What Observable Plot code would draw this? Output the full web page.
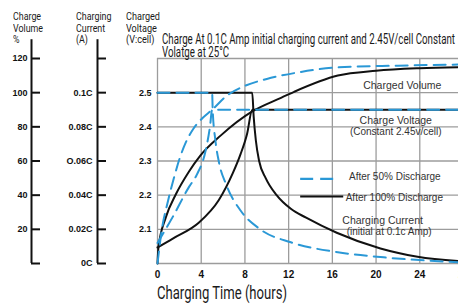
<!DOCTYPE html>
<html>
<head>
<meta charset="utf-8">
<script src="https://cdn.jsdelivr.net/npm/d3@7"></script>
<script src="https://cdn.jsdelivr.net/npm/@observablehq/plot@0.6"></script>
<style>
  html, body { margin: 0; padding: 0; background: #fff; overflow: hidden; }
  #wrap { position: relative; width: 458px; height: 306px; overflow: hidden; background: #fff; }
  #chart { position: absolute; left: 0; top: 0; }
  .lbl { position: absolute; white-space: pre; transform-origin: 0 0; color: #1a1a1a; font-family: Roboto, "DejaVu Sans", sans-serif; }
</style>
</head>
<body>
<div id="wrap"><div id="chart"></div></div>
<script>
// ---- axis ticks / labels ----
const hourTicks = [0, 4, 8, 12, 16, 20, 24, 28];
const voltTicks = [2.0, 2.1, 2.2, 2.3, 2.4, 2.5, 2.6];
const voltLabels = ["", "2.1", "2.2", "2.3", "2.4", "2.5", ""];
const volumeLabels = ["", "20", "40", "60", "80", "100", "120"];
const currentLabels = ["0C", "0.02C", "0.04C", "O.06C", "0.08C", "0.1C", ""];

// ---- series (time in hours) ----
// Charged volume (%)
const vol100T = [0, 0.08, 0.76, 1.68, 2.9, 3.9, 5.8, 8.67, 11.3, 12.5, 16.5, 20, 24, 28];
const vol100V = [0, 9, 27, 40.5, 54, 63, 75, 89, 97, 100.5, 110, 112.8, 114.3, 115];
const vol50T = [0, 0.4, 0.9, 1.5, 2.0, 2.6, 3.3, 4.1, 5.0, 6.4, 8, 10, 13, 16.5, 22, 28];
const vol50V = [0, 20, 35, 50, 61, 71, 79, 85, 90, 98.5, 104, 108, 112, 114.8, 115.8, 116.5];
// Charge voltage (V/cell)
const volt100T = [0, 1.4, 3.8, 5.6, 6.9, 7.6, 8.2, 8.67, 28];
const volt100V = [2.047, 2.073, 2.12, 2.185, 2.265, 2.32, 2.38, 2.45, 2.45];
const volt50T = [0, 1.37, 2.9, 3.6, 4.4, 4.8, 5.0, 28];
const volt50V = [2.06, 2.135, 2.225, 2.26, 2.33, 2.40, 2.45, 2.45];
// Charging current (C)
const cur100T = [0, 8.67, 8.8, 9.0, 9.3, 9.9, 10.9, 12.2, 13.6, 16.4, 20.4, 23.8, 28];
const cur100V = [0.1, 0.1, 0.086, 0.072, 0.06, 0.05, 0.04, 0.032, 0.0268, 0.018, 0.0088, 0.004, 0.0012];
const cur50T = [0, 5.0, 5.05, 5.3, 5.6, 6.3, 7.6, 9.4, 12.2, 16.5, 20.7, 28];
const cur50V = [0.1, 0.1, 0.09, 0.072, 0.06, 0.046, 0.031, 0.02, 0.0124, 0.0066, 0.0036, 0.0006];

// shared vertical scale is the voltage one: 0..120 % and 0..0.12C map onto 2.0..2.6 V
const fromVolume = v => 2 + v / 200;
const fromCurrent = c => 2 + c * 5;
const rows = (ts, vs, f) => ts.map((t, i) => ({t, v: f(vs[i])}));
const idx = d => Math.round((d - 2) * 10);

const BLUE = "#2a98d6";
const BLACK = "#111";
const DASH = "12,7";
const lineOpts = (stroke, dash) => ({x: "t", y: "v", stroke, strokeWidth: 2, curve: "monotone-x", strokeDasharray: dash});
const tickFont = {fontWeight: "bold", fontSize: 9, fill: "#111"};

const notes = [
  {text: "Charged Volume", t: 22.4, v: 2.522, size: 10.5},
  {text: "Charge Voltage", t: 21.8, v: 2.418, size: 10.5},
  {text: "(Constant 2.45v/cell)", t: 21.8, v: 2.3845, size: 10},
  {text: "Charging Current", t: 20.6, v: 2.1265, size: 10.5},
  {text: "(initial at 0.1c Amp)", t: 21.2, v: 2.0925, size: 10}
];

const plot = Plot.plot({
  width: 463, height: 306,
  marginLeft: 157, marginRight: 0, marginTop: 58, marginBottom: 43,
  x: {domain: [0, 28]},
  y: {domain: [2.0, 2.6]},
  style: {fontFamily: "'Liberation Sans', Arial, sans-serif", maxWidth: "none", background: "transparent"},
  marks: [
    Plot.gridX(hourTicks, {stroke: "#9c9c9c", strokeOpacity: 1, strokeWidth: 1.3}),
    Plot.gridY(voltTicks, {stroke: "#9c9c9c", strokeOpacity: 1, strokeWidth: 1.3}),
    // Charge Volume axis
    Plot.ruleX([0], {y1: 2.0, y2: 2.655, dx: -126, stroke: BLACK, strokeWidth: 2}),
    Plot.axisY(voltTicks, {anchor: "left", label: null, dx: -117, tickSize: 9, tickPadding: 4, strokeWidth: 2, stroke: BLACK,
      tickFormat: d => volumeLabels[idx(d)], ...tickFont}),
    // Charging Current axis
    Plot.ruleX([0], {y1: 2.0, y2: 2.655, dx: -60, stroke: BLACK, strokeWidth: 2}),
    Plot.axisY(voltTicks, {anchor: "left", label: null, dx: -51, tickSize: 9, tickPadding: 5, strokeWidth: 2, stroke: BLACK,
      tickFormat: d => currentLabels[idx(d)], ...tickFont}),
    // Voltage axis
    Plot.axisY(voltTicks, {anchor: "left", label: null, tickSize: 0, tickPadding: 6,
      tickFormat: d => voltLabels[idx(d)], ...tickFont}),
    Plot.axisX(hourTicks, {anchor: "bottom", label: null, tickSize: 0, tickPadding: 7, fontWeight: "bold", fontSize: 10, fill: "#111"}),
    // black: after 100% discharge
    Plot.line(rows(cur100T, cur100V, fromCurrent), lineOpts(BLACK)),
    Plot.line(rows(volt100T, volt100V, v => v), lineOpts(BLACK)),
    Plot.line(rows(vol100T, vol100V, fromVolume), lineOpts(BLACK)),
    // blue dashed: after 50% discharge
    Plot.line(rows(cur50T, cur50V, fromCurrent), lineOpts(BLUE, DASH)),
    Plot.line(rows(volt50T, volt50V, v => v), lineOpts(BLUE, DASH)),
    Plot.line(rows(vol50T, vol50V, fromVolume), lineOpts(BLUE, DASH)),
    // legend
    Plot.ruleY([2.2478], {x1: 13.1, x2: 16.76, stroke: BLUE, strokeWidth: 2.2, strokeDasharray: "13,7"}),
    Plot.ruleY([2.1961], {x1: 13.1, x2: 17.04, stroke: BLACK, strokeWidth: 2}),
    Plot.text(["After 50% Discharge"], {x: 17.52, y: 2.2537, text: d => d, textAnchor: "start", fontSize: 10, fill: "#333"}),
    Plot.text(["After 100% Discharge"], {x: 17.22, y: 2.1932, text: d => d, textAnchor: "start", fontSize: 10, fill: "#333"}),
    // annotations
    Plot.text(notes, {x: "t", y: "v", text: "text", fontSize: d => d.size, textAnchor: "middle", fill: "#333"})
  ]
});
document.getElementById("chart").appendChild(plot);

// ---- condensed headings (HTML text, horizontally fitted) ----
const wrap = document.getElementById("wrap");
function block(text, x, baseline, size, lh, targetW) {
  const el = document.createElement("div");
  el.className = "lbl";
  el.textContent = text;
  el.style.left = x + "px";
  el.style.top = (baseline - lh / 2 - 0.342 * size) + "px";
  el.style.fontSize = size + "px";
  el.style.lineHeight = lh + "px";
  wrap.appendChild(el);
  const w = el.getBoundingClientRect().width;
  el.style.transform = `scaleX(${targetW / w})`;
}
block("Charge At 0.1C Amp initial charging current and 2.45V/cell Constant\nVolatge at 25°C", 162, 44, 14, 12.6, 293);
block("Charge\nVolume\n%", 13, 20.7, 11, 11.3, 30);
block("Charging\nCurrent\n(A)", 76, 20.7, 11, 11.3, 35.5);
block("Charged\nVoltage\n(V:cell)", 126, 20.7, 11, 11.3, 34);
block("Charging Time (hours)", 157, 299.3, 18, 18, 130);
</script>
</body>
</html>
